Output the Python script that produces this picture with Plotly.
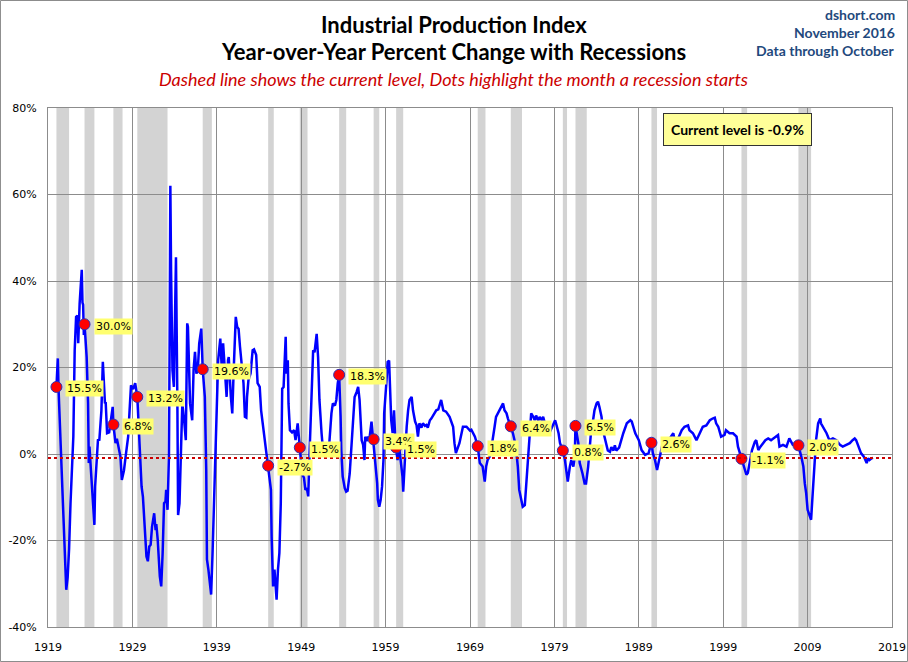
import plotly.graph_objects as go

# monthly YoY % change of industrial production
dates = [
    "1920-01", "1920-03", "1920-04", "1920-07", "1921-03", "1921-05", "1921-07", "1921-09",
    "1922-01", "1922-03", "1922-05", "1922-07", "1922-08", "1922-10", "1923-01", "1923-02",
    "1923-03", "1923-04", "1923-05", "1923-08", "1923-10", "1923-11", "1923-12", "1924-02",
    "1924-07", "1924-08", "1924-10", "1924-12", "1925-02", "1925-05", "1925-07", "1925-08",
    "1925-10", "1925-11", "1926-01", "1926-04", "1926-06", "1926-09", "1926-10", "1927-01",
    "1927-03", "1927-05", "1927-08", "1927-10", "1928-01", "1928-04", "1928-07", "1928-09",
    "1928-11", "1929-02", "1929-05", "1929-08", "1929-11", "1930-02", "1930-04", "1930-07",
    "1930-09", "1930-11", "1931-01", "1931-03", "1931-05", "1931-08", "1931-10", "1931-11",
    "1932-01", "1932-04", "1932-06", "1932-08", "1932-10", "1932-12", "1933-01", "1933-03",
    "1933-05", "1933-06", "1933-07", "1933-08", "1933-10", "1933-12", "1934-03", "1934-05",
    "1934-06", "1934-08", "1934-10", "1934-12", "1935-03", "1935-05", "1935-07", "1935-08",
    "1935-11", "1936-02", "1936-04", "1936-06", "1936-08", "1936-10", "1936-12", "1937-03",
    "1937-05", "1937-08", "1937-10", "1937-11", "1938-01", "1938-04", "1938-05", "1938-07",
    "1938-09", "1938-11", "1939-01", "1939-03", "1939-06", "1939-08", "1939-10", "1940-01",
    "1940-03", "1940-05", "1940-06", "1940-09", "1940-11", "1941-01", "1941-04", "1941-06",
    "1941-08", "1941-10", "1941-12", "1942-03", "1942-05", "1942-07", "1942-08", "1942-10",
    "1943-01", "1943-04", "1943-06", "1943-09", "1943-11", "1944-02", "1944-04", "1944-07",
    "1944-09", "1944-11", "1945-02", "1945-06", "1945-07", "1945-09", "1945-11", "1946-01",
    "1946-02", "1946-04", "1946-06", "1946-08", "1946-09", "1946-10", "1946-12", "1947-02",
    "1947-03", "1947-04", "1947-06", "1947-07", "1947-09", "1947-12", "1948-03", "1948-05",
    "1948-08", "1948-11", "1949-02", "1949-05", "1949-07", "1949-09", "1949-11", "1950-01",
    "1950-04", "1950-06", "1950-08", "1950-11", "1951-01", "1951-03", "1951-06", "1951-08",
    "1951-11", "1952-01", "1952-03", "1952-05", "1952-08", "1952-10", "1953-01", "1953-03",
    "1953-05", "1953-07", "1953-09", "1953-10", "1953-12", "1954-03", "1954-05", "1954-07",
    "1954-10", "1954-12", "1955-03", "1955-05", "1955-08", "1955-10", "1955-12", "1956-02",
    "1956-03", "1956-05", "1956-07", "1956-08", "1956-10", "1956-12", "1957-02", "1957-05",
    "1957-07", "1957-08", "1957-10", "1958-01", "1958-02", "1958-04", "1958-06", "1958-08",
    "1958-10", "1958-11", "1959-02", "1959-04", "1959-06", "1959-08", "1959-09", "1959-11",
    "1960-01", "1960-03", "1960-04", "1960-06", "1960-08", "1960-10", "1961-01", "1961-02",
    "1961-04", "1961-07", "1961-09", "1961-11", "1962-02", "1962-04", "1962-07", "1962-09",
    "1962-11", "1963-01", "1963-04", "1963-06", "1963-09", "1963-11", "1964-01", "1964-04",
    "1964-06", "1964-11", "1965-01", "1965-04", "1965-08", "1965-11", "1966-03", "1966-08",
    "1967-01", "1967-03", "1967-05", "1967-10", "1968-03", "1968-08", "1969-01", "1969-03",
    "1969-05", "1969-08", "1969-12", "1970-03", "1970-05", "1970-07", "1970-10", "1970-12",
    "1971-02", "1971-05", "1971-07", "1971-10", "1971-12", "1972-02", "1972-07", "1972-10",
    "1972-12", "1973-02", "1973-05", "1973-07", "1973-11", "1974-02", "1974-06", "1974-09",
    "1974-11", "1975-02", "1975-04", "1975-07", "1975-09", "1975-11", "1976-02", "1976-04",
    "1976-07", "1976-09", "1976-11", "1977-02", "1977-04", "1977-07", "1977-09", "1978-02",
    "1978-07", "1978-09", "1979-02", "1979-04", "1979-07", "1979-09", "1980-01", "1980-04",
    "1980-06", "1980-08", "1980-11", "1981-01", "1981-04", "1981-06", "1981-07", "1981-11",
    "1982-01", "1982-03", "1982-05", "1982-08", "1982-10", "1983-01", "1983-03", "1983-05",
    "1983-08", "1983-10", "1984-01", "1984-03", "1984-05", "1984-08", "1984-10", "1985-01",
    "1985-03", "1985-05", "1985-08", "1985-10", "1986-01", "1986-03", "1986-05", "1986-09",
    "1987-03", "1987-08", "1988-01", "1988-03", "1988-08", "1989-01", "1989-05", "1989-10",
    "1990-03", "1990-07", "1990-09", "1990-12", "1991-03", "1991-06", "1991-09", "1991-11",
    "1992-04", "1992-09", "1993-02", "1993-04", "1993-09", "1994-02", "1994-06", "1994-11",
    "1995-01", "1995-06", "1995-11", "1996-04", "1996-08", "1997-01", "1997-06", "1997-10",
    "1998-01", "1998-03", "1998-06", "1998-10", "1999-03", "1999-05", "1999-10", "2000-03",
    "2000-08", "2000-10", "2001-03", "2001-06", "2001-10", "2001-12", "2002-03", "2002-06",
    "2002-10", "2002-12", "2003-03", "2003-06", "2004-01", "2004-05", "2004-09", "2005-03",
    "2005-07", "2005-09", "2006-02", "2006-07", "2006-11", "2007-04", "2007-12", "2008-04",
    "2008-07", "2008-09", "2008-11", "2009-01", "2009-04", "2009-06", "2009-08", "2009-11",
    "2010-01", "2010-04", "2010-07", "2010-08", "2010-11", "2011-04", "2011-08", "2012-01",
    "2012-06", "2012-11", "2013-03", "2013-08", "2014-01", "2014-05", "2014-08", "2014-10",
    "2015-01", "2015-05", "2015-09", "2016-01", "2016-03", "2016-05", "2016-08", "2016-10",
]
yoy = [
    15.5, 22.1, 15.0, 1.7, -31.4, -28.5, -22.0, -11.4,
    4.0, 24.0, 31.7, 32.0, 25.6, 34.8, 42.6, 35.0,
    34.5, 27.5, 30.0, 22.4, 11.7, -2.1, 1.7, -3.7,
    -16.4, -7.5, -2.1, 3.2, 3.3, 10.1, 21.3, 16.4,
    11.7, 12.0, 4.8, 5.0, 7.1, 10.9, 6.8, 2.5,
    3.5, 1.7, -0.6, -6.0, -3.8, 0.2, 4.0, 10.1,
    15.9, 15.0, 16.4, 13.2, 4.0, -7.5, -9.9, -16.8,
    -23.7, -24.8, -21.4, -21.0, -16.8, -13.7, -17.6, -16.2,
    -19.8, -28.3, -30.6, -22.9, -11.4, -11.0, -8.3, -12.9,
    -0.6, 27.0, 62.0, 42.4, 19.4, 15.5, 45.5, 11.7,
    -14.1, -11.4, -0.6, 11.7, 7.1, 3.2, 30.2, 29.4,
    11.7, 7.8, 19.4, 23.6, 18.6, 19.4, 25.6, 29.0,
    19.6, 13.2, -3.7, -24.4, -26.7, -30.6, -32.5, -22.9,
    -11.4, 0.2, 11.7, 21.7, 26.7, 20.1, 25.6, 19.4,
    13.2, 21.7, 22.4, 13.2, 9.4, 19.4, 31.7, 29.4,
    28.9, 24.8, 20.8, 16.4, 8.6, 8.4, 13.2, 17.1,
    18.6, 24.0, 24.2, 22.9, 16.4, 15.5, 10.1, 6.3,
    4.0, 1.0, -2.7, -8.3, -19.1, -30.6, -26.7, -30.6,
    -33.7, -26.7, -22.9, -11.4, 0.2, 15.1, 15.5, 22.4,
    27.1, 18.6, 21.7, 11.7, 5.5, 5.0, 5.5, 3.2,
    7.1, 1.5, -4.5, -5.5, -8.3, -7.9, -9.8, 0.9,
    16.3, 24.0, 23.5, 27.8, 22.4, 12.5, 4.8, 0.9,
    -0.6, 2.0, -0.6, 2.5, 9.4, 11.7, 11.2, 12.5,
    16.3, 18.3, 8.6, 0.9, -5.2, -7.9, -8.7, -8.5,
    -4.5, 0.9, 10.1, 13.2, 14.4, 15.5, 12.5, 6.4,
    3.2, 2.2, -1.4, 4.0, 3.0, 4.0, 3.5, 7.5,
    4.0, 3.4, -1.4, -6.8, -10.6, -12.2, -10.6, -7.5,
    -1.4, 9.4, 16.3, 21.3, 21.6, 12.5, 7.8, 4.8,
    10.1, 2.5, 1.5, -1.4, 2.0, -0.6, -5.2, -8.7,
    -2.5, 6.3, 10.1, 12.5, 13.2, 10.1, 7.5, 6.7,
    4.0, 7.1, 6.1, 7.1, 6.5, 6.7, 6.1, 7.8,
    8.2, 9.4, 10.1, 10.3, 12.5, 10.1, 9.8, 8.6,
    6.3, 2.5, 0.2, 2.5, 6.3, 6.3, 5.4, 5.6,
    4.8, 4.0, 1.8, -2.1, -2.5, -2.9, -6.4, -2.9,
    -1.4, -0.6, 0.9, 4.8, 6.3, 8.6, 10.1, 11.3,
    11.7, 10.1, 9.4, 8.2, 6.4, 4.8, 2.0, -2.9,
    -8.3, -10.6, -12.2, -11.8, -7.5, -1.4, 4.8, 9.4,
    8.6, 7.8, 8.9, 7.6, 8.6, 7.8, 8.6, 5.5,
    5.2, 6.0, 7.8, 6.7, 4.8, 2.5, 0.8, -1.4,
    -4.5, -6.4, -2.9, -1.4, -2.9, -0.6, 6.5, 2.5,
    -2.1, -3.7, -4.5, -6.8, -6.8, -2.9, 0.9, 4.8,
    7.8, 10.1, 11.7, 12.1, 10.9, 8.6, 5.5, 3.2,
    2.0, 0.8, 0.5, 1.6, 0.8, 2.0, 0.8, 1.5,
    4.8, 7.1, 7.8, 7.5, 4.8, 3.2, 0.9, -0.2,
    0.2, 2.6, 0.2, -1.4, -3.7, -1.4, 0.9, 2.5,
    3.2, 3.6, 4.8, 3.2, 3.6, 5.5, 6.3, 6.6,
    5.5, 4.8, 3.2, 4.8, 6.3, 6.6, 7.8, 8.2,
    8.4, 7.1, 6.3, 4.0, 4.4, 5.5, 4.8, 4.8,
    4.0, 1.7, -1.1, -2.9, -4.8, -4.4, -2.1, 0.9,
    2.8, 3.2, 0.9, 1.7, 3.2, 3.6, 3.2, 4.0,
    4.4, 1.7, 2.1, 1.7, 3.6, 2.1, 2.0, -0.6,
    -2.9, -6.8, -9.1, -12.9, -14.5, -15.2, -9.8, -2.9,
    3.2, 7.1, 8.2, 7.1, 6.3, 4.8, 3.2, 3.6,
    3.2, 2.1, 1.7, 2.1, 2.5, 3.2, 3.6, 3.2,
    1.7, 0.2, -0.6, -2.1, -1.0, -1.4, -1.0, -0.9,
]

# NBER recessions
rec_start = ["1920-01", "1923-05", "1926-10", "1929-08", "1937-05", "1945-02", "1948-11",
             "1953-07", "1957-08", "1960-04", "1969-12", "1973-11", "1980-01", "1981-07",
             "1990-07", "2001-03", "2007-12"]
rec_end = ["1921-07", "1924-07", "1927-11", "1933-03", "1938-06", "1945-10", "1949-10",
           "1954-05", "1958-04", "1961-02", "1970-11", "1975-03", "1980-07", "1982-11",
           "1991-03", "2001-11", "2009-06"]
rec_start_value = [15.5, 30.0, 6.8, 13.2, 19.6, -2.7, 1.5, 18.3, 3.4, 1.5, 1.8, 6.4, 0.8,
                   6.5, 2.6, -1.1, 2.0]

current_level = -0.9
year_ticks = [str(y) for y in range(1919, 2020, 10)]
pct_ticks = [-40, -20, 0, 20, 40, 60, 80]

fig = go.Figure()

fig.add_trace(go.Scatter(
    x=dates, y=yoy, mode="lines",
    line=dict(color="#0000ff", width=2.5),
    hoverinfo="skip", showlegend=False,
))

fig.add_trace(go.Scatter(
    x=rec_start, y=rec_start_value, mode="markers",
    marker=dict(color="#ff0000", size=11, line=dict(color="#3030b0", width=1)),
    showlegend=False,
))

shapes = []
for s, e in zip(rec_start, rec_end):
    shapes.append(dict(type="rect", xref="x", yref="paper", x0=s, x1=e, y0=0, y1=1,
                       fillcolor="#d3d3d3", line=dict(width=0), layer="below"))
shapes.append(dict(type="line", xref="paper", yref="y", x0=0, x1=1,
                   y0=current_level, y1=current_level,
                   line=dict(color="#cc0000", width=2, dash="dot")))
# outer frame of the picture
shapes.append(dict(type="rect", xref="paper", yref="paper",
                   x0=-0.0563, x1=1.0184, y0=-0.0665, y1=1.2071,
                   line=dict(color="#8c8c8c", width=1)))

annotations = []
for d, v in zip(rec_start, rec_start_value):
    annotations.append(dict(
        x=d, y=v, xref="x", yref="y", text=f"{v:.1f}%", showarrow=False,
        xanchor="left", xshift=9, yshift=-2,
        font=dict(family="DejaVu Sans", size=11, color="#000000"),
        bgcolor="#ffff70", borderpad=1,
    ))

head = dict(xref="paper", yref="paper", showarrow=False, yanchor="middle")
annotations += [
    dict(head, x=0.481, y=1.160, text="Industrial Production Index",
         font=dict(family="Lato", size=22, color="#000000", weight="bold")),
    dict(head, x=0.481, y=1.108, text="Year-over-Year Percent Change with Recessions",
         font=dict(family="Lato", size=22, color="#000000", weight="bold")),
    dict(head, x=0.481, y=1.056,
         text="<i>Dashed line shows the current level, Dots highlight the month a recession starts</i>",
         font=dict(family="Lato", size=18, color="#cc0000")),
    dict(head, x=1.006, y=1.180, xanchor="right", text="dshort.com",
         font=dict(family="Lato", size=14, color="#1f497d", weight="bold")),
    dict(head, x=1.006, y=1.145, xanchor="right", text="November 2016",
         font=dict(family="Lato", size=14, color="#1f497d", weight="bold")),
    dict(head, x=1.006, y=1.111, xanchor="right", text="Data through October",
         font=dict(family="Lato", size=14, color="#1f497d", weight="bold")),
    dict(head, x=0.905, y=0.958, text=f"Current level is {current_level:.1f}%",
         font=dict(family="Lato", size=14, color="#000000", weight="bold"),
         bgcolor="#ffff99", bordercolor="#333333", borderwidth=1, borderpad=7),
]

fig.update_layout(
    width=908, height=662,
    margin=dict(l=48, r=16, t=108, b=35, autoexpand=False),
    paper_bgcolor="#ffffff", plot_bgcolor="#ffffff",
    shapes=shapes, annotations=annotations,
    showlegend=False,
)
fig.update_xaxes(
    type="date", range=["1919-01-01", "2019-01-01"],
    tickvals=[f"{y}-01-01" for y in year_ticks], ticktext=year_ticks,
    showgrid=True, gridcolor="#8c8c8c", gridwidth=1,
    showline=True, linecolor="#8c8c8c", mirror=True,
    tickfont=dict(family="DejaVu Sans", size=11, color="#000000"),
    ticklabelstandoff=10, automargin=False,
)
fig.update_yaxes(
    range=[-40, 80], tickvals=pct_ticks, ticktext=[f"{v}%" for v in pct_ticks],
    showgrid=True, gridcolor="#8c8c8c", gridwidth=1,
    zeroline=True, zerolinecolor="#8c8c8c", zerolinewidth=1,
    showline=True, linecolor="#8c8c8c", mirror=True,
    tickfont=dict(family="DejaVu Sans", size=11, color="#000000"),
    ticklabelstandoff=8, automargin=False,
)

# the page body has a default margin; drop it so the figure fills the window
fig.write_html("out.html", config={"displayModeBar": False},
               post_script="document.body.style.margin = '0';")
